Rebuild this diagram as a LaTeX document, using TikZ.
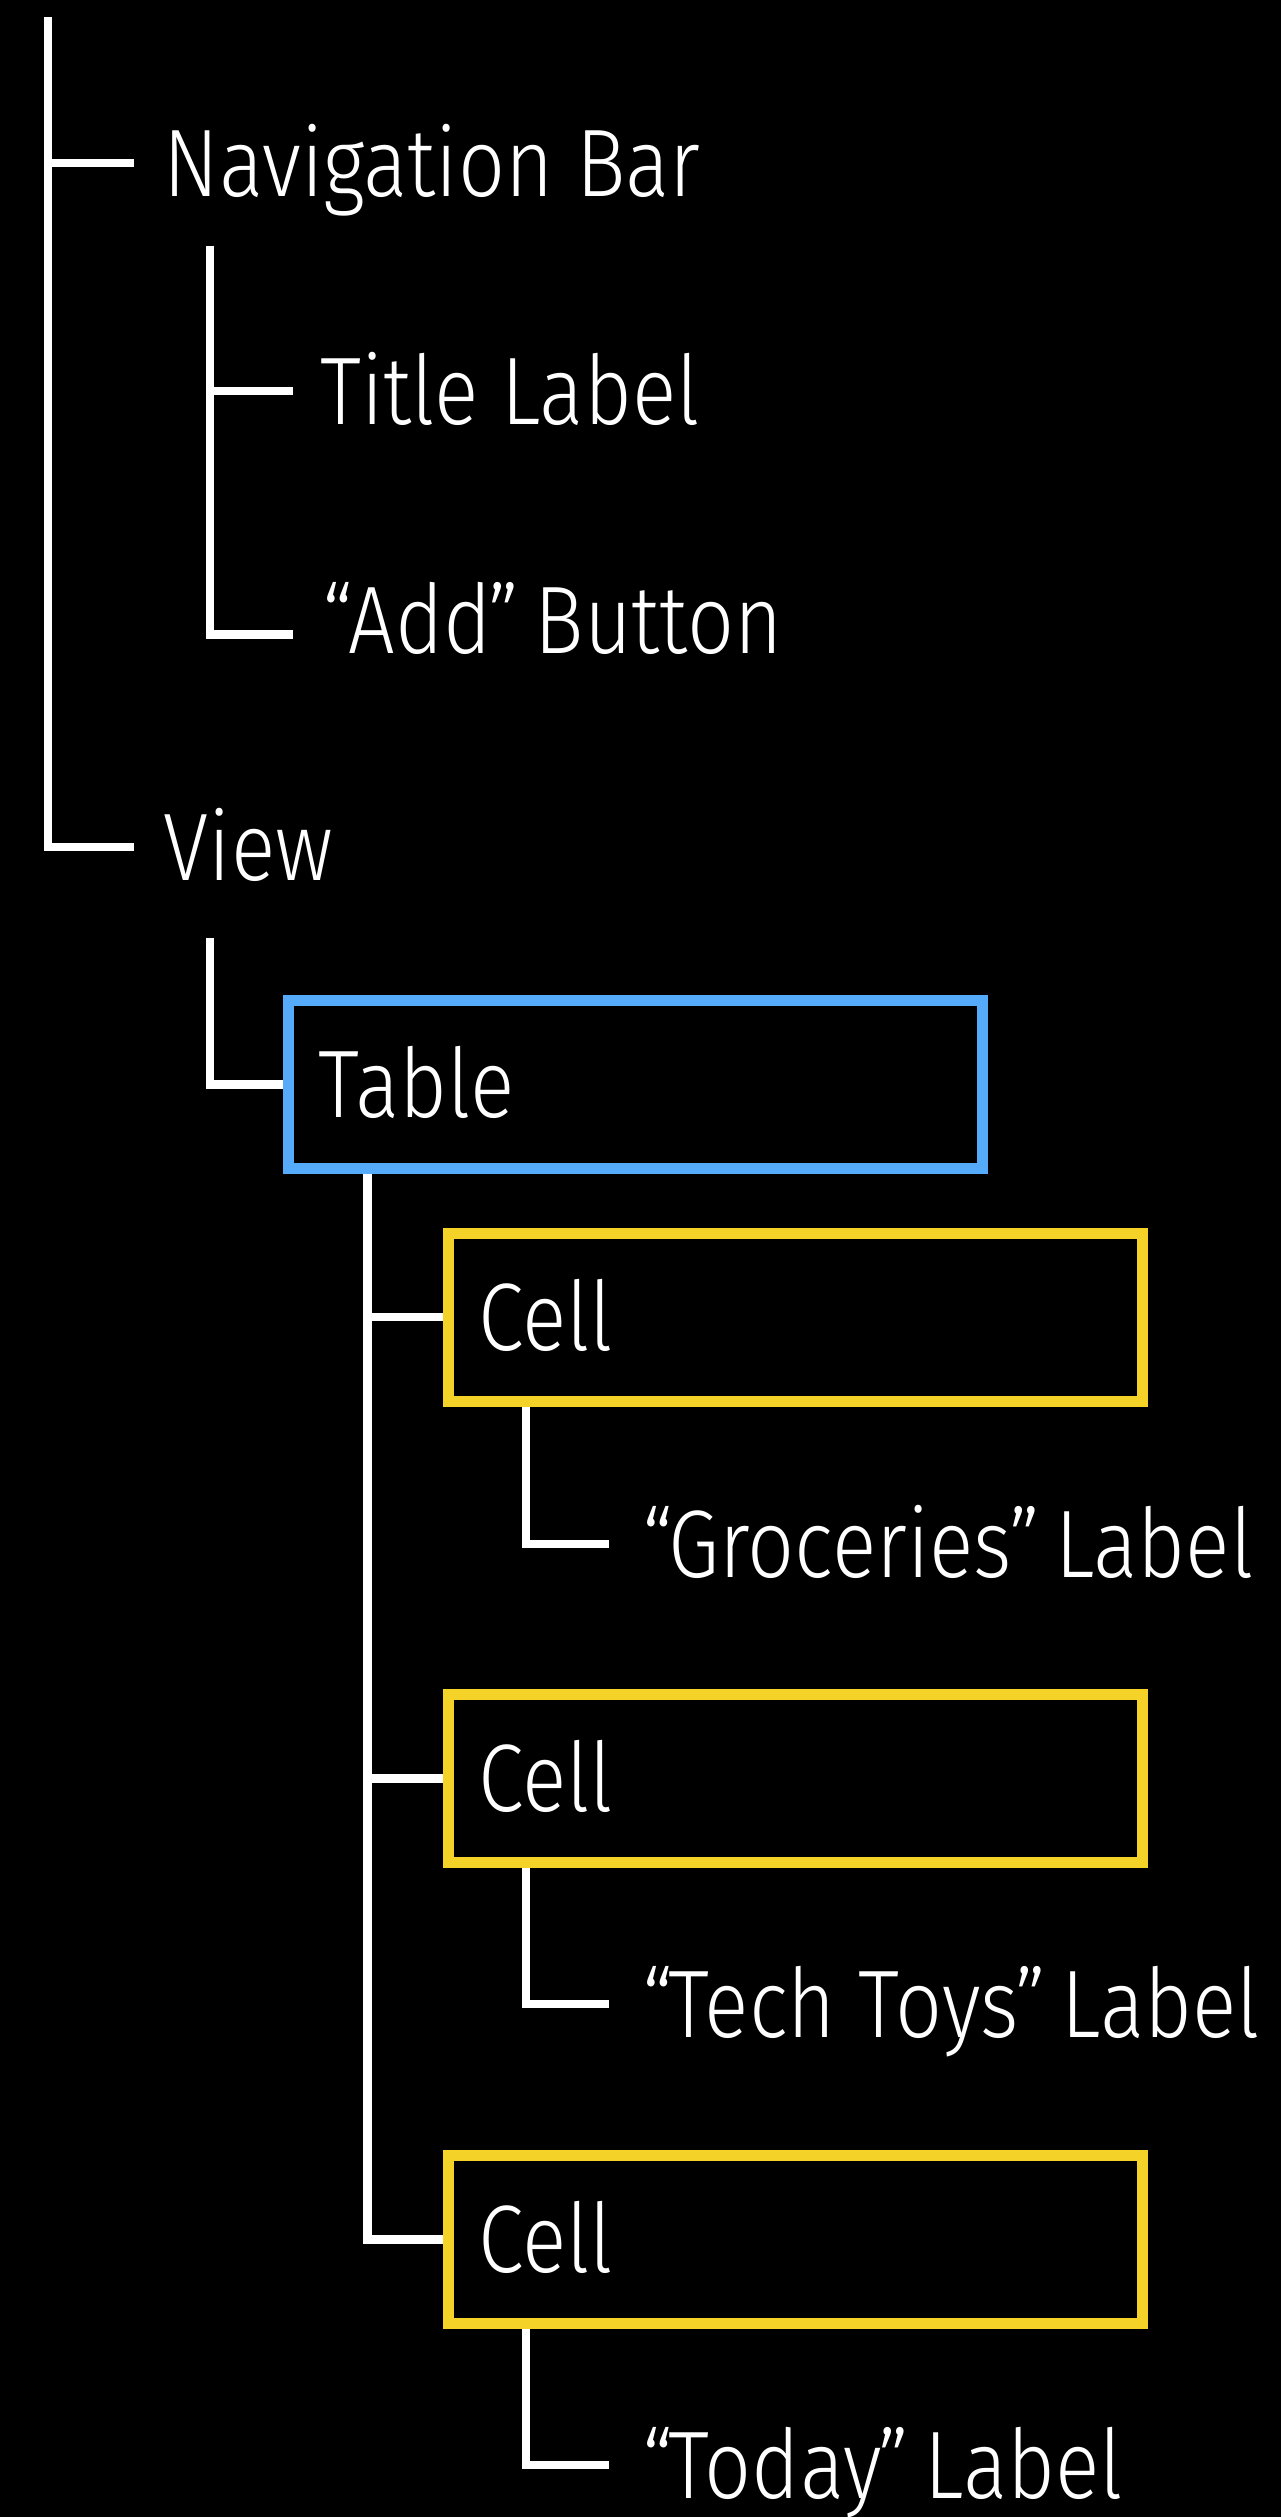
\documentclass[tikz,border=0pt]{standalone}
\usepackage{fontspec}
\setmainfont{Fira Sans Light}[FakeStretch=0.86]
\usepackage{xcolor}
\usepackage{tikz}
\usetikzlibrary{positioning,calc}

\definecolor{tableblue}{RGB}{85,170,250}
\definecolor{cellyellow}{RGB}{245,210,40}

% tight curly quotes round a name
\newcommand\quoted[1]{“\kern-0.05em#1\kern-0.03em”\kern-0.08em\relax}

\begin{document}
\begin{tikzpicture}[x=1cm,y=-1cm,
  wire/.style={draw=white,line width=0.085cm},
  lbl/.style={anchor=west,inner sep=0pt,text=white,
              font=\fontsize{27.3}{32}\selectfont,
              text height=0.66cm,text depth=0pt},
  framebox/.style={lbl,draw=#1,line width=0.11cm,inner xsep=0.3cm,
              text width=6.335cm,align=left,minimum height=1.68cm}]

  \useasboundingbox (0,0) rectangle (12.81,25.17);
  \fill[black] (0,0) rectangle (12.81,25.17);

  % hierarchy entries
  \node[lbl] (nav)   at (1.63,1.63)  {Navigation Bar};
  \node[lbl] (title) at (3.20,3.91)  {Title Label};
  \node[lbl] (add)   at (3.22,6.20)  {\quoted{Add} Button};
  \node[lbl] (view)  at (1.63,8.47)  {View};

  \node[framebox=tableblue]  (table) at (2.83,10.845) {Table};
  \node[framebox=cellyellow] (cell1) at (4.43,13.17)  {Cell};
  \node[framebox=cellyellow] (cell2) at (4.43,17.785) {Cell};
  \node[framebox=cellyellow] (cell3) at (4.43,22.395) {Cell};

  \node[lbl] (groc)  at (6.42,15.44) {\quoted{Groceries} Label};
  \node[lbl] (tech)  at (6.42,20.04) {\quoted{Tech Toys} Label};
  \node[lbl] (today) at (6.42,24.65) {\quoted{Today} Label};

  % tree lines
  \coordinate (top)      at (0.48,0.17);
  \coordinate (navdrop)  at (2.10,2.455);
  \coordinate (viewdrop) at (2.10,9.38);

  \draw[wire,shorten >=0.29cm] (top) |- (nav.west);
  \draw[wire,shorten >=0.29cm] (top) |- (view.west);
  \draw[wire,shorten >=0.27cm] (navdrop) |- (title.west);
  \draw[wire,shorten >=0.29cm] (navdrop) |- ([yshift=-0.145cm]add.west);
  \draw[wire] (viewdrop) |- (table.west);

  \foreach \c in {cell1,cell2,cell3}
    \draw[wire] ([xshift=0.845cm]table.south west) |- (\c.west);

  \foreach \c/\l in {cell1/groc,cell2/tech,cell3/today}
    \draw[wire,shorten >=0.33cm] ([xshift=0.83cm]\c.south west) |- (\l.west);
\end{tikzpicture}
\end{document}
